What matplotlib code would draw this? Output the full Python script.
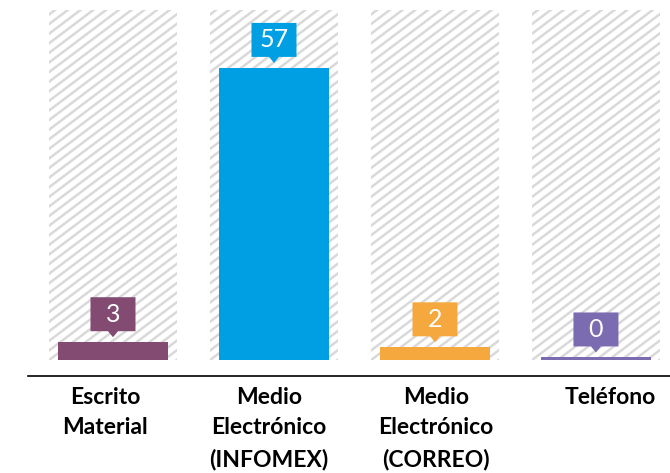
import matplotlib
matplotlib.use("Agg")
import numpy as np
import matplotlib.pyplot as plt
import matplotlib.transforms as mtransforms
from matplotlib.patches import Rectangle, Polygon
from matplotlib.collections import LineCollection

# Data
categories = ["Escrito\nMaterial", "Medio\nElectrónico\n(INFOMEX)",
              "Medio\nElectrónico\n(CORREO)", "Teléfono"]
values = [3, 57, 2, 0]
colors = ["#834A72", "#009FE3", "#F5A83E", "#7B6BB1"]

plt.rcParams['font.family'] = ['Lato', 'DejaVu Sans']

base = -0.5   # bars start slightly below zero, like the original
top = 68.4

fig = plt.figure(figsize=(6.7, 4.73), dpi=100)
ax = fig.add_axes([28 / 670, 97 / 473, 642 / 670, 366 / 473])
ax.set_xlim(-0.528, 3.46)
ax.set_ylim(-3.65, top)

x = np.arange(len(values))
ident = mtransforms.IdentityTransform()

# hatched background columns
slope = np.tan(np.radians(37))
step = 9.6
for xi in x:
    bg = Rectangle((xi - 0.395, base), 0.79, top - base,
                   facecolor="white", edgecolor="none", zorder=1)
    ax.add_patch(bg)
    (x0, y0), (x1, y1) = ax.transData.transform([(xi - 0.395, base), (xi + 0.395, top)])
    segs = []
    c = y0 - slope * (x1 - x0) - step
    while c < y1 + step:
        segs.append([(x0 - 5, c - slope * 5), (x1 + 5, c + slope * (x1 - x0 + 5))])
        c += step
    lc = LineCollection(segs, colors="#D9D9D9", linewidths=1.8,
                        transform=ident, zorder=2)
    ax.add_collection(lc)
    lc.set_clip_path(bg)

# bars
ax.bar(x, [v - base for v in values], bottom=base, width=0.683,
       color=colors, zorder=3)

# callout labels
bw, bh = 45, 34
for xi, v, col in zip(x, values, colors):
    px, py = ax.transData.transform((xi, v))
    tip = py + 5
    b0 = tip + 6
    poly = Polygon([(px - bw / 2, b0), (px - 5, b0), (px, tip), (px + 5, b0),
                    (px + bw / 2, b0), (px + bw / 2, b0 + bh), (px - bw / 2, b0 + bh)],
                   closed=True, facecolor=col, edgecolor="none",
                   transform=ident, zorder=4)
    ax.add_patch(poly)
    ax.text(px, b0 + bh / 2, str(v), transform=ident, ha="center", va="center",
            color="white", fontsize=18, zorder=5)

# axes styling
for s in ["top", "right", "left"]:
    ax.spines[s].set_visible(False)
ax.spines["bottom"].set_color("black")
ax.spines["bottom"].set_linewidth(1.2)
ax.set_yticks([])
ax.set_xticks(x)
ax.set_xticklabels(categories, fontsize=16.5, fontweight="bold", linespacing=1.55)
ax.tick_params(axis="x", length=0, pad=8)

# labels in the original are not exactly centred under the bars
shifts = [-8, -5, 1, 14]
for lab, dx in zip(ax.get_xticklabels(), shifts):
    lab.set_transform(lab.get_transform() +
                      mtransforms.ScaledTranslation(dx / 100, 0, fig.dpi_scale_trans))

fig.savefig("out.png", dpi=100)
